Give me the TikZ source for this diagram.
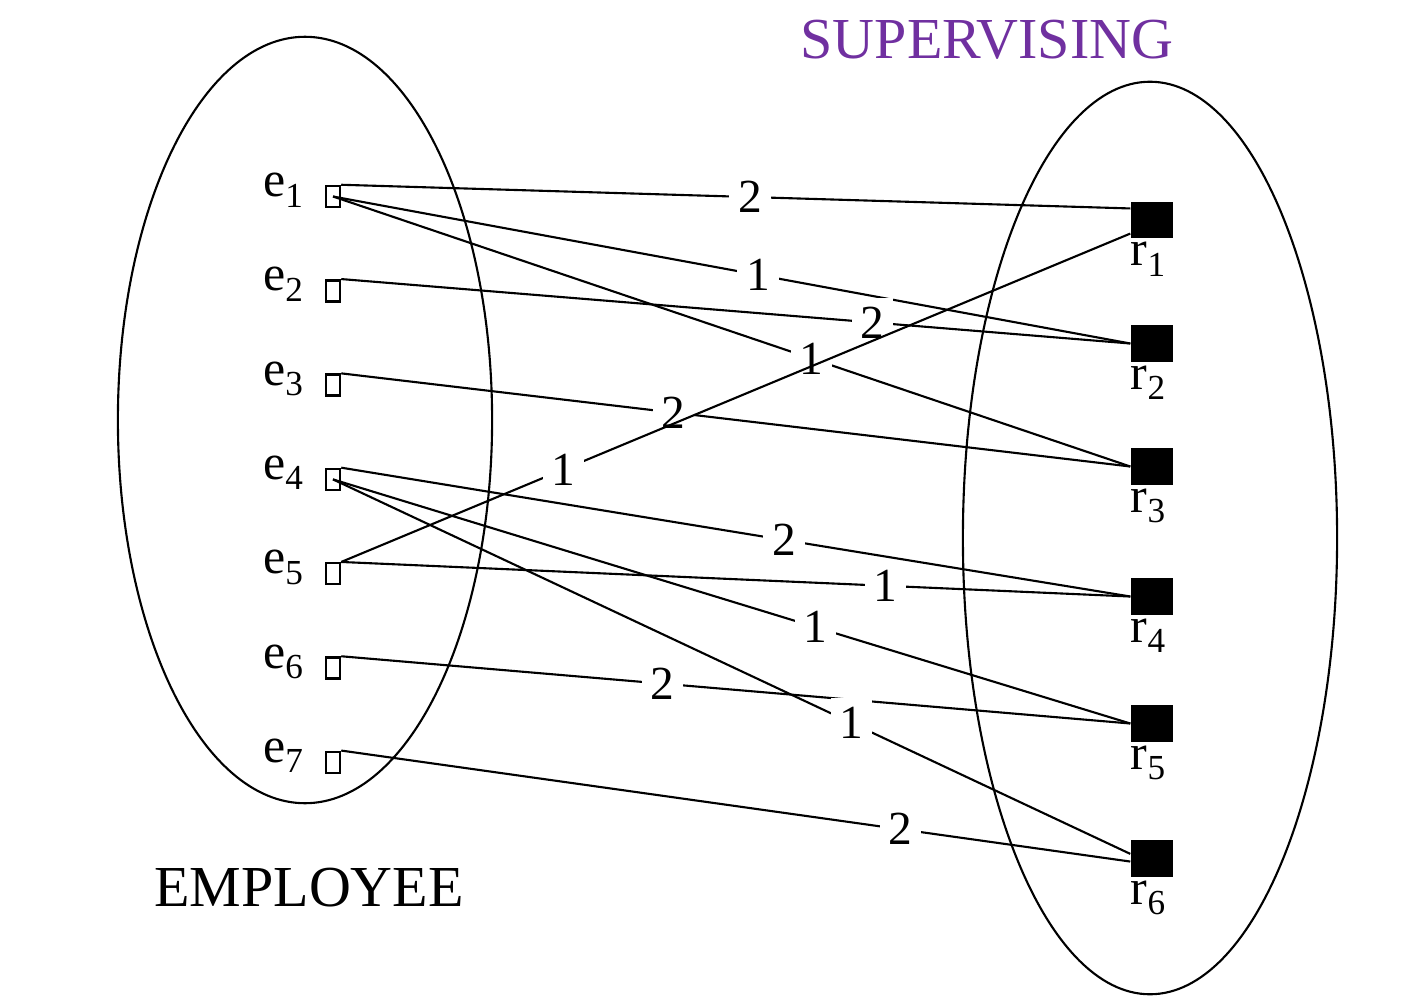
\documentclass[tikz,border=0pt]{standalone}
\usepackage{fontspec}
\setmainfont{Liberation Serif}
\usetikzlibrary{positioning}

\definecolor{setpurple}{RGB}{112,48,160}
\newcommand{\idx}[1]{\raisebox{-3pt}{\fontsize{10pt}{10pt}\selectfont #1}}

\tikzset{
  emp/.style={draw, line width=0.7pt, inner sep=0, minimum width=0.14cm, minimum height=0.21cm},
  rel/.style={fill=black, inner sep=0, minimum width=0.42cm, minimum height=0.36cm},
  ename/.style={anchor=base east, inner sep=0, font=\fontsize{14.2pt}{15pt}\selectfont},
  rname/.style={anchor=base, inner sep=0, font=\fontsize{14.2pt}{15pt}\selectfont},
  wt/.style={fill=white, inner sep=2.5pt, font=\fontsize{13.5pt}{14pt}\selectfont},
  link/.style={line width=0.6pt}
}

\begin{document}
\begin{tikzpicture}[x=0.01cm, y=-0.01cm]
\useasboundingbox (0,0) rectangle (1412,997);

% Sets
\draw[line width=0.6pt] (305,420) ellipse (1.87cm and 3.83cm);
\draw[line width=0.6pt] (1150,538) ellipse (1.87cm and 4.56cm);

\node[font=\fontsize{16.5pt}{17pt}\selectfont, text=setpurple] (title) at (987,40) {SUPERVISING};
\node[font=\fontsize{16.5pt}{17pt}\selectfont] (empname) at (309,888) {EMPLOYEE};

% Employees
\node[emp] (e1) at (333,196.5) {};
\node[emp] (e2) at (333,290.8) {};
\node[emp] (e3) at (333,385.1) {};
\node[emp] (e4) at (333,479.4) {};
\node[emp] (e5) at (333,573.7) {};
\node[emp] (e6) at (333,668) {};
\node[emp] (e7) at (333,762.3) {};

\node[ename] (le1) at ([xshift=-0.21cm]e1.west) {e\idx{1}};
\node[ename] (le2) at ([xshift=-0.21cm]e2.west) {e\idx{2}};
\node[ename] (le3) at ([xshift=-0.21cm]e3.west) {e\idx{3}};
\node[ename] (le4) at ([xshift=-0.21cm]e4.west) {e\idx{4}};
\node[ename] (le5) at ([xshift=-0.21cm]e5.west) {e\idx{5}};
\node[ename] (le6) at ([xshift=-0.21cm]e6.west) {e\idx{6}};
\node[ename] (le7) at ([xshift=-0.21cm]e7.west) {e\idx{7}};

% Relationship instances
\node[rel] (r1) at (1152,220) {};
\node[rel] (r2) at (1152,343.5) {};
\node[rel] (r3) at (1152,466.5) {};
\node[rel] (r4) at (1152,596.5) {};
\node[rel] (r5) at (1152,723.5) {};
\node[rel] (r6) at (1152,858.5) {};

\node[rname] (lr1) at ([xshift=-0.04cm, yshift=-0.27cm]r1.south) {r\idx{1}};
\node[rname] (lr2) at ([xshift=-0.04cm, yshift=-0.27cm]r2.south) {r\idx{2}};
\node[rname] (lr3) at ([xshift=-0.04cm, yshift=-0.27cm]r3.south) {r\idx{3}};
\node[rname] (lr4) at ([xshift=-0.04cm, yshift=-0.27cm]r4.south) {r\idx{4}};
\node[rname] (lr5) at ([xshift=-0.04cm, yshift=-0.27cm]r5.south) {r\idx{5}};
\node[rname] (lr6) at ([xshift=-0.04cm, yshift=-0.27cm]r6.south) {r\idx{6}};

% Links
\draw[link] (e1.north east) -- node[wt, pos=0.518] (w11) {2} (r1.152);
\draw[link] (e1.center) -- node[wt, pos=0.533] (w12) {1} (r2.west);
\draw[link] (e1.center) -- node[wt, pos=0.600] (w13) {1} (r3.west);
\draw[link] (e2.north east) -- node[wt, pos=0.673] (w22) {2} (r2.west);
\draw[link] (e3.north east) -- node[wt, pos=0.421] (w33) {2} (r3.west);
\draw[link] (e5.north east) -- node[wt, pos=0.282] (w51) {1} (r1.212);
\draw[link] (e4.north east) -- node[wt, pos=0.561] (w44) {2} (r4.west);
\draw[link] (e5.north east) -- node[wt, pos=0.690] (w54) {1} (r4.west);
\draw[link] (e4.center) -- node[wt, pos=0.605] (w45) {1} (r5.west);
\draw[link] (e6.north east) -- node[wt, pos=0.407] (w65) {2} (r5.west);
\draw[link] (e4.center) -- node[wt, pos=0.650] (w46) {1} (r6.168);
\draw[link] (e7.north east) -- node[wt, pos=0.709] (w76) {2} (r6.188);

\end{tikzpicture}
\end{document}
